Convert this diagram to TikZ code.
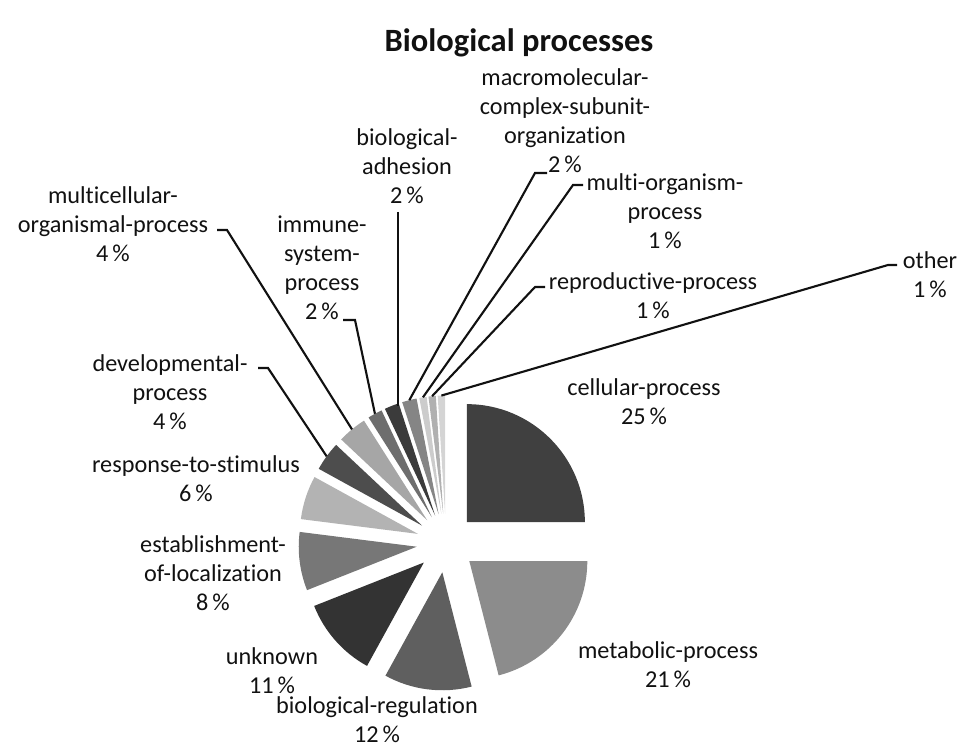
\documentclass[tikz,border=0pt]{standalone}
\usepackage{fontspec}
\setmainfont{Carlito}[Ligatures=NoCommon]
\usetikzlibrary{calc}
\definecolor{Ink}{HTML}{111111}
\definecolor{SlCell}{HTML}{404040}
\definecolor{SlMeta}{HTML}{8C8C8C}
\definecolor{SlReg}{HTML}{5F5F5F}
\definecolor{SlUnk}{HTML}{333333}
\definecolor{SlLoc}{HTML}{777777}
\definecolor{SlResp}{HTML}{B3B3B3}
\definecolor{SlDev}{HTML}{4D4D4D}
\definecolor{SlMulti}{HTML}{A6A6A6}
\definecolor{SlImm}{HTML}{6E6E6E}
\definecolor{SlAdh}{HTML}{3B3B3B}
\definecolor{SlMacro}{HTML}{858585}
\definecolor{SlMorg}{HTML}{CCCCCC}
\definecolor{SlRepr}{HTML}{B0B0B0}
\definecolor{SlOth}{HTML}{D4D4D4}
\tikzset{
  lbl/.style={align=center,text=Ink,font=\fontsize{13.8}{16.5}\selectfont,inner sep=0pt},
  ttl/.style={text=Ink,font=\fontsize{18.5}{22}\selectfont\bfseries,inner sep=0pt},
  leader/.style={draw=Ink,line width=1.2pt}
}
\begin{document}
\begin{tikzpicture}
\useasboundingbox (0,0) rectangle (19.2,15);
\coordinate (C) at (8.92,4.14);
\foreach \n/\a/\b/\c in {cell/90/0/SlCell,meta/0/-75.6/SlMeta,reg/-75.6/-118.8/SlReg,unk/-118.8/-158.4/SlUnk,
  loc/-158.4/-187.2/SlLoc,resp/-187.2/-208.8/SlResp,dev/-208.8/-223.2/SlDev,multi/-223.2/-237.6/SlMulti,
  imm/-237.6/-244.8/SlImm,adh/-244.8/-252/SlAdh,macro/-252/-259.2/SlMacro,morg/-259.2/-262.8/SlMorg,
  repr/-262.8/-266.4/SlRepr,oth/-266.4/-270/SlOth}{
  \fill[\c] ($(C)+({(\a+\b)/2}:0.59)$) coordinate (a-\n) -- ++(\a:2.36) arc[start angle=\a,end angle=\b,radius=2.36] -- cycle;
  \coordinate (s-\n) at ($(C)+({(\a+\b)/2}:2.95)$);
}
\node[ttl] (title) at (10.38,14.14) {Biological processes};
\node[lbl] (lcell) at (12.88,6.97) {cellular-process\\25\,\%};
\node[lbl] (lmeta) at (13.36,1.70) {metabolic-process\\21\,\%};
\node[lbl] (lreg) at (7.54,0.60) {biological-regulation\\12\,\%};
\node[lbl] (lunk) at (5.44,1.58) {unknown\\11\,\%};
\node[lbl] (lloc) at (4.26,3.53) {establishment-\\of-localization\\8\,\%};
\node[lbl] (lresp) at (3.92,5.42) {response-to-stimulus\\6\,\%};
\node[lbl] (ldev) at (3.40,7.16) {developmental-\\process\\4\,\%};
\node[lbl] (lmulti) at (2.26,10.52) {multicellular-\\organismal-process\\4\,\%};
\node[lbl] (limm) at (6.44,9.64) {immune-\\system-\\process\\2\,\%};
\node[lbl] (ladh) at (8.14,11.68) {biological-\\adhesion\\2\,\%};
\node[lbl] (lmacro) at (11.30,12.59) {macromolecular-\\complex-subunit-\\organization\\2\,\%};
\node[lbl] (lmorg) at (13.30,10.78) {multi-organism-\\process\\1\,\%};
\node[lbl] (lrepr) at (13.06,9.08) {reproductive-process\\1\,\%};
\node[lbl] (loth) at (18.60,9.51) {other\\1\,\%};
\coordinate (k-multi) at (4.34,10.40);
\coordinate (k-imm) at (6.86,8.60);
\coordinate (k-dev) at (5.16,7.64);
\coordinate (k-adh) at (7.96,10.76);
\coordinate (k-macro) at (10.94,11.54);
\coordinate (k-morg) at (11.66,11.30);
\coordinate (k-repr) at (10.90,9.26);
\coordinate (k-oth) at (17.94,9.70);
\draw[leader] (k-multi) -- ++(0.2,0) -- (s-multi);\draw[leader] (k-imm) -- ++(0.24,0) -- (s-imm);
\draw[leader] (k-dev) -- ++(0.2,0) -- (s-dev);\draw[leader] (k-adh) -- (k-adh |- s-adh);
\draw[leader] (k-macro) -- ++(-0.24,0) -- (s-macro);\draw[leader] (k-morg) -- ++(-0.2,0) -- (s-morg);
\draw[leader] (k-repr) -- ++(-0.2,0) -- (s-repr);\draw[leader] (k-oth) -- ++(-0.18,0) -- (s-oth);
\end{tikzpicture}
\end{document}
